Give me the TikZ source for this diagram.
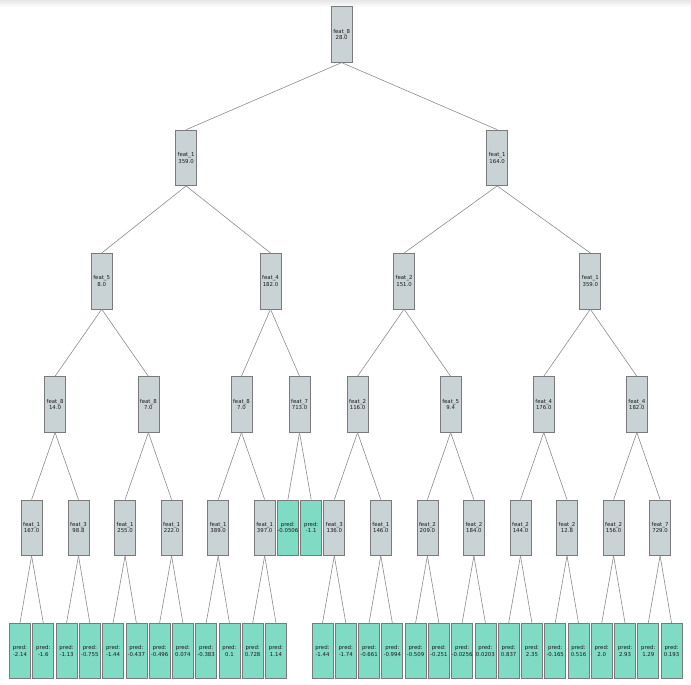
\documentclass[tikz,border=0pt]{standalone}
\usepackage{fontspec}
\setmainfont{DejaVu Sans}
\definecolor{splitfill}{HTML}{C9D3D5}
\definecolor{leaffill}{HTML}{80DBC4}
\definecolor{boxline}{HTML}{7A7A7A}
\definecolor{edgeline}{HTML}{8C8C8C}
\definecolor{txt}{HTML}{1A1A1A}
\tikzset{
  box/.style={draw=boxline, line width=0.7pt, minimum width=21pt, minimum height=55.5pt,
    inner sep=0pt, align=center, text=txt, font=\fontsize{5.4}{6.4}\selectfont},
  split/.style={box, fill=splitfill},
  leaf/.style={box, fill=leaffill},
  edge/.style={draw=edgeline, line width=0.6pt}
}
\begin{document}
\begin{tikzpicture}[x=1pt,y=-1pt]
\useasboundingbox (0,0) rectangle (691,685);
\fill[white] (0,0) rectangle (691,685);
\shade[top color=black!10, bottom color=white] (0,0) rectangle (691,7);
% root and upper levels
\node[split] (r) at (341.65,34.5) {feat\_8\\28.0};
\node[split] (d0) at (186.1,157.8) {feat\_1\\359.0};
\node[split] (d1) at (497.2,157.8) {feat\_1\\164.0};
\node[split] (c0) at (101.7,281.1) {feat\_5\\8.0};
\node[split] (c1) at (270.5,281.1) {feat\_4\\182.0};
\node[split] (c2) at (404.1,281.1) {feat\_2\\151.0};
\node[split] (c3) at (590.3,281.1) {feat\_1\\359.0};
% level 3
\node[split] (b0) at (55.05,404.4) {feat\_8\\14.0};
\node[split] (b1) at (148.35,404.4) {feat\_8\\7.0};
\node[split] (b2) at (241.45,404.4) {feat\_8\\7.0};
\node[split] (b3) at (299.55,404.4) {feat\_7\\713.0};
\node[split] (b4) at (357.55,404.4) {feat\_2\\116.0};
\node[split] (b5) at (450.65,404.4) {feat\_5\\9.4};
\node[split] (b6) at (543.75,404.4) {feat\_4\\176.0};
\node[split] (b7) at (636.85,404.4) {feat\_4\\182.0};
% level 4
\node[split] (a0) at (31.6,527.7) {feat\_1\\167.0};
\node[split] (a1) at (78.5,527.7) {feat\_3\\98.8};
\node[split] (a2) at (125.1,527.7) {feat\_1\\255.0};
\node[split] (a3) at (171.6,527.7) {feat\_1\\222.0};
\node[split] (a4) at (218.2,527.7) {feat\_1\\389.0};
\node[split] (a5) at (264.7,527.7) {feat\_1\\397.0};
\node[leaf]  (p1) at (287.9,527.7) {pred:\\-0.0506};
\node[leaf]  (p2) at (311.2,527.7) {pred:\\-1.1};
\node[split] (a6) at (334.3,527.7) {feat\_3\\136.0};
\node[split] (a7) at (380.8,527.7) {feat\_1\\146.0};
\node[split] (a8) at (427.4,527.7) {feat\_2\\209.0};
\node[split] (a9) at (473.9,527.7) {feat\_2\\184.0};
\node[split] (a10) at (520.5,527.7) {feat\_2\\144.0};
\node[split] (a11) at (567.0,527.7) {feat\_2\\12.8};
\node[split] (a12) at (613.6,527.7) {feat\_2\\156.0};
\node[split] (a13) at (660.1,527.7) {feat\_7\\729.0};
% leaves
\node[leaf] (l0) at (20.0,651) {pred:\\-2.14};
\node[leaf] (l1) at (43.27,651) {pred:\\-1.6};
\node[leaf] (l2) at (66.54,651) {pred:\\-1.13};
\node[leaf] (l3) at (89.81,651) {pred:\\-0.755};
\node[leaf] (l4) at (113.08,651) {pred:\\-1.44};
\node[leaf] (l5) at (136.35,651) {pred:\\-0.437};
\node[leaf] (l6) at (159.62,651) {pred:\\-0.496};
\node[leaf] (l7) at (182.89,651) {pred:\\0.074};
\node[leaf] (l8) at (206.16,651) {pred:\\-0.383};
\node[leaf] (l9) at (229.43,651) {pred:\\0.1};
\node[leaf] (l10) at (252.7,651) {pred:\\0.728};
\node[leaf] (l11) at (275.97,651) {pred:\\1.14};
\node[leaf] (l13) at (322.51,651) {pred:\\-1.44};
\node[leaf] (l14) at (345.78,651) {pred:\\-1.74};
\node[leaf] (l15) at (369.05,651) {pred:\\-0.661};
\node[leaf] (l16) at (392.32,651) {pred:\\-0.994};
\node[leaf] (l17) at (415.59,651) {pred:\\-0.509};
\node[leaf] (l18) at (438.86,651) {pred:\\-0.251};
\node[leaf] (l19) at (462.13,651) {pred:\\-0.0256};
\node[leaf] (l20) at (485.4,651) {pred:\\0.0203};
\node[leaf] (l21) at (508.67,651) {pred:\\0.837};
\node[leaf] (l22) at (531.94,651) {pred:\\2.35};
\node[leaf] (l23) at (555.21,651) {pred:\\-0.165};
\node[leaf] (l24) at (578.48,651) {pred:\\0.516};
\node[leaf] (l25) at (601.75,651) {pred:\\2.0};
\node[leaf] (l26) at (625.02,651) {pred:\\2.93};
\node[leaf] (l27) at (648.29,651) {pred:\\1.29};
\node[leaf] (l28) at (671.56,651) {pred:\\0.193};
% edges
\foreach \p/\c in {r/d0,r/d1,d0/c0,d0/c1,d1/c2,d1/c3,
  c0/b0,c0/b1,c1/b2,c1/b3,c2/b4,c2/b5,c3/b6,c3/b7,
  b0/a0,b0/a1,b1/a2,b1/a3,b2/a4,b2/a5,b3/p1,b3/p2,b4/a6,b4/a7,b5/a8,b5/a9,b6/a10,b6/a11,b7/a12,b7/a13,
  a0/l0,a0/l1,a1/l2,a1/l3,a2/l4,a2/l5,a3/l6,a3/l7,a4/l8,a4/l9,a5/l10,a5/l11,
  a6/l13,a6/l14,a7/l15,a7/l16,a8/l17,a8/l18,a9/l19,a9/l20,a10/l21,a10/l22,a11/l23,a11/l24,a12/l25,a12/l26,a13/l27,a13/l28}
  {\draw[edge] (\p.south) -- (\c.north);}
\end{tikzpicture}
\end{document}
